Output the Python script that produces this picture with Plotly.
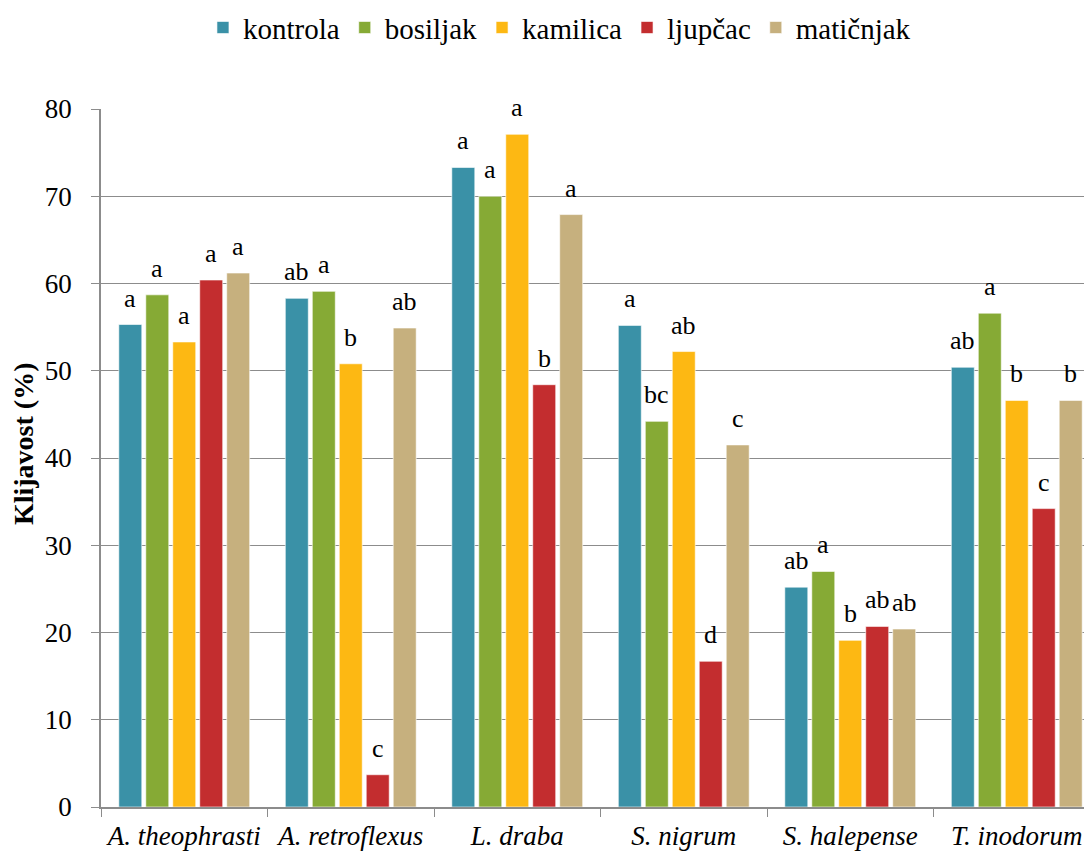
import plotly.graph_objects as go

categories = ["A. theophrasti", "A. retroflexus", "L. draba", "S. nigrum", "S. halepense", "T. inodorum"]
series_names = ["kontrola", "bosiljak", "kamilica", "ljupčac", "matičnjak"]

kontrola = [55.3, 58.3, 73.3, 55.2, 25.2, 50.4]
bosiljak = [58.7, 59.1, 70.0, 44.2, 27.0, 56.6]
kamilica = [53.3, 50.8, 77.1, 52.2, 19.1, 46.6]
ljupcac = [60.4, 3.7, 48.4, 16.7, 20.7, 34.2]
maticnjak = [61.2, 54.9, 67.9, 41.5, 20.4, 46.6]

kontrola_lbl = ["a", "ab", "a", "a", "ab", "ab"]
bosiljak_lbl = ["a", "a", "a", "bc", "a", "a"]
kamilica_lbl = ["a", "b", "a", "ab", "b", "b"]
ljupcac_lbl = ["a", "c", "b", "d", "ab", "c"]
maticnjak_lbl = ["a", "ab", "a", "c", "ab", "b"]

y_title = "Klijavost (%)"

values = [kontrola, bosiljak, kamilica, ljupcac, maticnjak]
labels = [kontrola_lbl, bosiljak_lbl, kamilica_lbl, ljupcac_lbl, maticnjak_lbl]
colors = ["#3A91A7", "#86AA35", "#FDB813", "#C32D2F", "#C6B07E"]

FONT = "Liberation Serif"
bargap = 0.19
n_series = len(series_names)
slot = (1 - bargap) / n_series

fig = go.Figure()
for name, vals, col in zip(series_names, values, colors):
    fig.add_trace(go.Bar(
        name=name, x=categories, y=vals,
        marker=dict(color=col, line=dict(color="rgba(255,255,255,0.6)", width=1)),
    ))

annotations = []
for j, (vals, lbls) in enumerate(zip(values, labels)):
    for i, (v, t) in enumerate(zip(vals, lbls)):
        annotations.append(dict(
            x=i + (j - (n_series - 1) / 2) * slot, y=v, xref="x", yref="y",
            text=t, showarrow=False, yanchor="bottom", yshift=10,
            font=dict(family=FONT, size=26, color="#000000"),
        ))

annotations.append(dict(
    text="<b>" + y_title + "</b>", textangle=-90, showarrow=False,
    xref="paper", yref="paper", x=0, y=0.52, xanchor="center", yanchor="middle",
    xshift=-78, font=dict(family=FONT, size=28, color="#000000"),
))

fig.update_layout(
    width=1092, height=854,
    paper_bgcolor="white", plot_bgcolor="white",
    margin=dict(l=93, r=0, t=101, b=55),
    barmode="group", bargap=bargap, bargroupgap=0.148,
    font=dict(family=FONT, size=26, color="#000000"),
    showlegend=True,
    legend=dict(
        orientation="h", xref="container", yref="container",
        x=0.505, xanchor="center", y=0.977, yanchor="middle",
        font=dict(family=FONT, size=29), traceorder="normal",
    ),
    annotations=annotations,
)
fig.update_xaxes(
    type="category", range=[-0.5, 5.5],
    tickson="boundaries", ticks="outside", ticklen=8, tickcolor="#8C8C8C",
    showline=True, linecolor="#8C8C8C", linewidth=1.5,
    showgrid=False, ticklabelstandoff=4,
    tickfont=dict(family=FONT, size=27, style="italic"),
)
fig.update_yaxes(
    range=[0, 80], tick0=0, dtick=10,
    ticks="outside", ticklen=8, tickcolor="#8C8C8C",
    showline=True, linecolor="#8C8C8C", linewidth=1.5,
    showgrid=True, gridcolor="#8C8C8C", gridwidth=1,
    zeroline=False, ticklabelstandoff=14,
    tickfont=dict(family=FONT, size=27),
)

fig.write_html("out.html")
